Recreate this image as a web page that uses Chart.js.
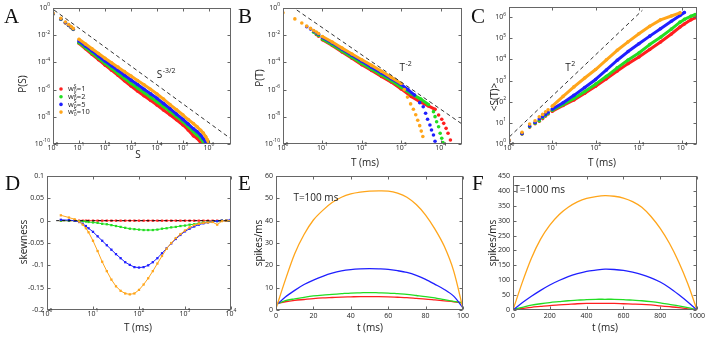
<!DOCTYPE html>
<html>
<head>
<meta charset="utf-8">
<script src="https://cdn.jsdelivr.net/npm/chart.js@4.4.1/dist/chart.umd.min.js"></script>
<style>
body { margin: 0; background: #fff; }
#fig { position: relative; width: 708px; height: 337px; overflow: hidden; background: #fff; }
canvas { position: absolute; }
.lab { position: absolute; font-family: "Liberation Serif", serif; font-size: 21px; line-height: 1; color: #111; }
</style>
</head>
<body>
<div id="fig">
  <canvas id="cA" width="236" height="170" style="left:0px;top:0px"></canvas>
  <canvas id="cB" width="234" height="170" style="left:233px;top:0px"></canvas>
  <canvas id="cC" width="241" height="170" style="left:467px;top:0px"></canvas>
  <canvas id="cD" width="240" height="172" style="left:0px;top:165px"></canvas>
  <canvas id="cE" width="236" height="172" style="left:236px;top:165px"></canvas>
  <canvas id="cF" width="238" height="172" style="left:470px;top:165px"></canvas>
  <div class="lab" style="left:4px;top:6px">A</div>
  <div class="lab" style="left:238px;top:6px">B</div>
  <div class="lab" style="left:471px;top:6px">C</div>
  <div class="lab" style="left:5px;top:173px">D</div>
  <div class="lab" style="left:238px;top:173px">E</div>
  <div class="lab" style="left:472px;top:173px">F</div>
</div>
<script>
// colours of the four w0S values
const RED = '#ff1f1f', GREEN = '#22dd22', BLUE = '#1f1fff', ORANGE = '#ffa51a';
const legendNames = ['1', '2', '5', '10'];

// ---- A : P(S), values are log10 ----
const aLogS = [0, 0.301, 0.477, 0.602, 0.699, 0.778, 1, 1.25, 1.5, 1.75, 2, 2.25, 2.5, 2.75, 3, 3.25, 3.5, 3.75, 4, 4.25, 4.5, 4.75, 5, 5.2, 5.4, 5.55, 5.68, 5.78, 5.87, 5.94, 6.0];
const aOrange = [-0.38, -0.76, -1.03, -1.22, -1.37, -1.5, -2.3, -2.65, -3.0, -3.35, -3.7, -4.03, -4.35, -4.68, -5.0, -5.33, -5.65, -5.98, -6.32, -6.7, -7.1, -7.48, -7.87, -8.2, -8.5, -8.75, -9.0, -9.2, -9.45, -9.7, -10.0];
const aBlue = [-0.42, -0.8, -1.07, -1.26, -1.41, -1.54, -2.43, -2.8, -3.15, -3.53, -3.9, -4.25, -4.6, -4.95, -5.3, -5.63, -5.97, -6.3, -6.64, -7.02, -7.4, -7.8, -8.19, -8.53, -8.88, -9.1, -9.35, -9.6, -9.85, -10.1, null];
const aGreen = [-0.44, -0.82, -1.09, -1.28, -1.43, -1.56, -2.55, -2.93, -3.3, -3.68, -4.07, -4.43, -4.8, -5.17, -5.54, -5.88, -6.22, -6.56, -6.9, -7.25, -7.6, -7.98, -8.36, -8.72, -9.1, -9.35, -9.6, -9.85, -10.1, null, null];
const aRed = [-0.45, -0.83, -1.1, -1.29, -1.44, -1.57, -2.6, -3.0, -3.4, -3.8, -4.2, -4.57, -4.95, -5.35, -5.74, -6.1, -6.45, -6.79, -7.13, -7.5, -7.85, -8.22, -8.6, -8.97, -9.4, -9.6, -9.9, -10.1, null, null, null];
const aDashS = [0.04, 6.8], aDashP = [-0.15, -9.56];
const aXTicks = [1, 1e1, 1e2, 1e3, 1e4, 1e5, 1e6];
const aYTicks = [1, 1e-2, 1e-4, 1e-6, 1e-8, 1e-10];

// ---- B : P(T) ----
const bOrT = [0, 0.301, 0.477, 0.602, 0.699, 0.778, 0.845, 0.903, 1, 1.25, 1.5, 1.75, 2, 2.25, 2.5, 2.75, 3, 3.08, 3.16, 3.24, 3.31, 3.37, 3.42, 3.47, 3.51, 3.55];
const bOrP = [-0.35, -0.8, -1.1, -1.33, -1.5, -1.65, -1.77, -1.88, -2.1, -2.5, -2.95, -3.38, -3.8, -4.22, -4.65, -5.1, -5.55, -6.0, -6.55, -7.05, -7.45, -7.85, -8.25, -8.65, -9.05, -9.45];
const bBlT = [0.602, 0.699, 0.778, 0.845, 0.903, 1, 1.25, 1.5, 1.75, 2, 2.25, 2.5, 2.75, 3, 3.17, 3.34, 3.47, 3.56, 3.62, 3.67, 3.73, 3.77, 3.82, 3.86];
const bBlP = [-1.38, -1.55, -1.7, -1.82, -1.93, -2.17, -2.57, -3.03, -3.47, -3.92, -4.35, -4.78, -5.2, -5.62, -6.0, -6.4, -6.96, -7.26, -7.74, -8.18, -8.6, -8.97, -9.34, -9.8];
const bGrT = [0.778, 0.845, 0.903, 1, 1.25, 1.5, 1.75, 2, 2.25, 2.5, 2.75, 3, 3.25, 3.5, 3.69, 3.82, 3.86, 3.9, 3.95, 3.99, 4.03, 4.06];
const bGrP = [-1.78, -1.9, -2.02, -2.28, -2.7, -3.17, -3.62, -4.07, -4.5, -4.93, -5.35, -5.82, -6.3, -6.7, -7.1, -7.62, -7.99, -8.36, -8.73, -9.21, -9.58, -9.9];
const bRdT = [0.845, 0.903, 1, 1.25, 1.5, 1.75, 2, 2.25, 2.5, 2.75, 3, 3.25, 3.51, 3.69, 3.86, 3.95, 4.03, 4.08, 4.14, 4.19, 4.25];
const bRdP = [-1.95, -2.07, -2.33, -2.75, -3.23, -3.7, -4.17, -4.6, -5.03, -5.45, -5.95, -6.5, -6.95, -7.2, -7.45, -7.87, -8.18, -8.48, -8.85, -9.21, -9.71];
const bDashT = [0.35, 4.58], bDashP = [-0.15, -8.6];
const bXTicks = [1, 1e1, 1e2, 1e3, 1e4];

// ---- C : <S(T)> ----
const cLogT = [0, 0.301, 0.477, 0.602, 0.699, 0.778, 0.845, 0.903, 1, 1.25, 1.5, 1.75, 2, 2.25, 2.5, 2.75, 3, 3.25, 3.5, 3.75, 3.95, 4.05, 4.2, 4.3];
const cOrange = [0.19, 0.55, 0.94, 1.1, 1.29, 1.4, 1.52, 1.62, 1.79, 2.25, 2.7, 3.12, 3.52, 3.98, 4.43, 4.83, 5.21, 5.57, 5.87, 6.05, 6.2, null, null, null];
const cBlue = [0.17, 0.5, 0.85, 1.02, 1.18, 1.29, 1.4, 1.5, 1.65, 1.95, 2.3, 2.67, 3.05, 3.5, 3.96, 4.37, 4.74, 5.1, 5.45, 5.8, 6.08, 6.22, null, null];
const cGreen = [0.15, 0.48, 0.82, 0.98, 1.1, 1.24, 1.35, 1.45, 1.6, 1.87, 2.15, 2.48, 2.83, 3.2, 3.6, 3.97, 4.3, 4.7, 5.05, 5.43, 5.76, 5.89, 6.04, 6.12];
const cRed = [0.14, 0.47, 0.8, 0.96, 1.08, 1.2, 1.32, 1.42, 1.55, 1.82, 2.08, 2.4, 2.73, 3.08, 3.45, 3.8, 4.11, 4.47, 4.82, 5.2, 5.53, 5.67, 5.87, 5.97];
const cDashT = [0.01, 3.08], cDashS = [0.34, 6.32];
const cYTicks = [1, 1e1, 1e2, 1e3, 1e4, 1e5, 1e6];

// ---- D : skewness ----
const dLogT = [0.301, 0.477, 0.602, 0.699, 0.778, 0.845, 0.903, 1.0, 1.1, 1.2, 1.3, 1.4, 1.5, 1.6, 1.7, 1.8, 1.9, 2.0, 2.1, 2.2, 2.3, 2.4, 2.5, 2.6, 2.7, 2.8, 2.9, 3.0, 3.1, 3.2, 3.3, 3.4, 3.5, 3.6, 3.7, 3.8, 3.9, 4.0];
const dRed = [0, 0, 0, 0, 0, 0, 0, 0, 0, 0, 0, 0, 0, 0, 0, 0, 0, 0, 0, 0, 0, 0, 0, 0, 0, 0, 0, 0, 0, 0, 0, 0, 0, 0, 0, 0, 0, 0];
const dGreen = [0, 0, 0, -0.001, -0.001, -0.002, -0.003, -0.004, -0.005, -0.007, -0.008, -0.010, -0.012, -0.014, -0.016, -0.018, -0.019, -0.020, -0.021, -0.021, -0.021, -0.020, -0.018, -0.017, -0.015, -0.014, -0.012, -0.011, -0.009, -0.008, -0.006, -0.004, -0.003, -0.002, -0.001, 0, 0, 0];
const dBlue = [0.002, 0.001, 0, -0.003, -0.007, -0.012, -0.017, -0.025, -0.035, -0.045, -0.055, -0.065, -0.075, -0.084, -0.093, -0.099, -0.104, -0.105, -0.104, -0.100, -0.093, -0.084, -0.073, -0.062, -0.051, -0.041, -0.032, -0.024, -0.018, -0.013, -0.009, -0.006, -0.004, -0.002, -0.001, 0, 0, 0.003];
const dOrange = [0.012, 0.007, 0.003, -0.002, -0.009, -0.017, -0.026, -0.045, -0.068, -0.092, -0.113, -0.132, -0.147, -0.157, -0.163, -0.165, -0.163, -0.155, -0.143, -0.129, -0.113, -0.096, -0.079, -0.063, -0.050, -0.039, -0.030, -0.022, -0.015, -0.010, -0.007, -0.005, -0.004, -0.003, -0.009, -0.001, 0, 0];
const dZeroT = [0.2, 4.0], dZero = [0, 0];

// ---- E : rate profile, T=100 ms ----
const eT = [0, 5, 10, 15, 20, 25, 30, 35, 40, 45, 50, 55, 60, 65, 70, 75, 80, 85, 90, 95, 100];
const eOrange = [0.7, 13.5, 25.2, 33.8, 40.3, 44.6, 48.1, 50.5, 52.0, 52.8, 53.2, 53.3, 53.2, 52.3, 50.5, 47.2, 42.5, 36.2, 28.5, 17.5, 0.5];
const eBlue = [2, 5.8, 8.8, 11.4, 13.4, 15.1, 16.5, 17.5, 18.1, 18.4, 18.5, 18.4, 18.2, 17.6, 16.8, 15.5, 13.7, 11.5, 9.2, 6.2, 1];
const eGreen = [2.5, 4.2, 5, 5.7, 6.3, 6.7, 7.0, 7.3, 7.6, 7.7, 7.8, 7.7, 7.6, 7.3, 7.0, 6.5, 6.0, 5.4, 4.6, 3.9, 3.2];
const eRed = [2.8, 3.7, 4.3, 4.7, 5.1, 5.4, 5.6, 5.8, 5.9, 6.0, 6.0, 6.0, 5.9, 5.7, 5.5, 5.2, 4.9, 4.5, 4.1, 3.7, 3.2];

// ---- F : rate profile, T=1000 ms ----
const fT = [0, 50, 100, 150, 200, 250, 300, 350, 400, 450, 500, 550, 600, 650, 700, 750, 800, 850, 900, 950, 1000];
const fOrange = [0, 92, 174, 238, 285, 320, 345, 363, 375, 381, 384, 382, 376, 364, 345, 314, 274, 224, 162, 88, 0];
const fBlue = [0, 24, 46, 66, 84, 99, 112, 122, 130, 134, 137, 136, 133, 127, 119, 108, 94, 75, 52, 27, 0];
const fGreen = [2, 9, 16, 21, 25, 28, 31, 33, 35, 36, 36, 36, 35, 33, 31, 28, 24, 19, 14, 8, 0];
const fRed = [1, 5, 9, 12, 15, 17, 19, 21, 22, 22, 22, 22, 21, 20, 19, 17, 14, 11, 8, 4, 0];

const FONT = '"Open Sans", sans-serif';

// helpers to turn read values into {x,y}
function logPts(xs, ys) {
  return xs.map((x, i) => ys[i] === null ? null : {x: Math.pow(10, x), y: Math.pow(10, ys[i])}).filter(p => p);
}
function semiPts(xs, ys) {
  return xs.map((x, i) => ({x: Math.pow(10, x), y: ys[i]}));
}
function linPts(xs, ys) {
  return xs.map((x, i) => ({x: x, y: ys[i]}));
}

// dense marker band: dots joined only where the markers overlap in the figure
function band(data, color, from, to) {
  return {
    data, borderColor: color, backgroundColor: color, borderWidth: 3,
    borderCapStyle: 'round', borderJoinStyle: 'round',
    pointRadius: 1.8, pointBorderWidth: 0, pointBackgroundColor: color,
    segment: { borderColor: c => (c.p0.parsed.x >= from && c.p1.parsed.x <= to) ? color : 'rgba(0,0,0,0)' }
  };
}
function dash(data) {
  return { data, borderColor: '#333', borderWidth: 1, borderDash: [4, 3], pointRadius: 0 };
}
function marked(data, color) {
  return { data, borderColor: color, borderWidth: 1, pointStyle: 'rect', pointRadius: 1.6,
    pointBorderWidth: 0, pointBackgroundColor: color };
}
function smooth(data, color) {
  return { data, borderColor: color, borderWidth: 1.3, pointRadius: 0, tension: 0.3 };
}

function pow10(ctx, x, y, v, align) {
  const e = String(Math.round(Math.log10(v)));
  ctx.font = '7px ' + FONT;
  const w1 = ctx.measureText('10').width;
  ctx.font = '5px ' + FONT;
  const w2 = ctx.measureText(e).width;
  const x0 = align === 'right' ? x - w1 - w2 : x - (w1 + w2) / 2;
  ctx.textAlign = 'left';
  ctx.textBaseline = 'middle';
  ctx.font = '7px ' + FONT;
  ctx.fillText('10', x0, y);
  ctx.font = '5px ' + FONT;
  ctx.fillText(e, x0 + w1, y - 3);
}

// box round the plot, inward ticks on all sides, 10^n labels for log axes
const frame = {
  id: 'frame',
  afterDatasetsDraw(chart) {
    const {ctx, chartArea: a} = chart;
    const sx = chart.scales.x, sy = chart.scales.y;
    ctx.save();
    ctx.strokeStyle = '#666';
    ctx.lineWidth = 1;
    const l = Math.round(a.left) + 0.5, t = Math.round(a.top) + 0.5;
    const r = Math.round(a.right) - 0.5, b = Math.round(a.bottom) - 0.5;
    ctx.strokeRect(l, t, r - l, b - t);
    ctx.beginPath();
    sx.ticks.forEach(k => {
      const p = Math.round(sx.getPixelForValue(k.value)) + 0.5;
      ctx.moveTo(p, b); ctx.lineTo(p, b - 3);
      ctx.moveTo(p, t); ctx.lineTo(p, t + 3);
    });
    sy.ticks.forEach(k => {
      const p = Math.round(sy.getPixelForValue(k.value)) + 0.5;
      ctx.moveTo(l, p); ctx.lineTo(l + 3, p);
      ctx.moveTo(r, p); ctx.lineTo(r - 3, p);
    });
    ctx.stroke();
    ctx.fillStyle = '#222';
    if (sx.type === 'logarithmic') sx.ticks.forEach(k => pow10(ctx, sx.getPixelForValue(k.value), a.bottom + 3.5, k.value, 'center'));
    if (sy.type === 'logarithmic') sy.ticks.forEach(k => pow10(ctx, a.left - 3, sy.getPixelForValue(k.value), k.value, 'right'));
    ctx.restore();
  }
};

// axis titles, given in page coordinates
function titles(list, ox, oy) {
  return {
    id: 'titles',
    afterDraw(chart) {
      const ctx = chart.ctx;
      ctx.save();
      ctx.fillStyle = '#222';
      ctx.textAlign = 'center';
      ctx.textBaseline = 'middle';
      ctx.font = '10px ' + FONT;
      list.forEach(t => {
        ctx.save();
        ctx.translate(t.x - ox, t.y - oy);
        if (t.rot) ctx.rotate(-Math.PI / 2);
        ctx.fillText(t.text, 0, 0);
        ctx.restore();
      });
      ctx.restore();
    }
  };
}

// text inside the plot, anchored at data values
function notes(list) {
  return {
    id: 'notes',
    afterDatasetsDraw(chart) {
      const {ctx, scales: {x, y}} = chart;
      ctx.save();
      ctx.fillStyle = '#222';
      ctx.textAlign = 'left';
      ctx.textBaseline = 'middle';
      list.forEach(n => {
        const px = x.getPixelForValue(n.x), py = y.getPixelForValue(n.y);
        ctx.font = '10px ' + FONT;
        ctx.fillText(n.text, px, py);
        if (n.sup) {
          const w = ctx.measureText(n.text).width;
          ctx.font = '7px ' + FONT;
          ctx.fillText(n.sup, px + w + 0.5, py - 4);
        }
      });
      ctx.restore();
    }
  };
}

const legendA = {
  id: 'legendA',
  afterDatasetsDraw(chart) {
    const ctx = chart.ctx, a = chart.chartArea;
    const cols = [RED, GREEN, BLUE, ORANGE];
    ctx.save();
    ctx.textAlign = 'left';
    ctx.textBaseline = 'middle';
    legendNames.forEach((n, i) => {
      const y = a.top + 81 + i * 7.7, x = a.left + 8;
      ctx.fillStyle = cols[i];
      ctx.beginPath(); ctx.arc(x, y, 1.8, 0, Math.PI * 2); ctx.fill();
      ctx.fillStyle = '#222';
      let tx = x + 7;
      ctx.font = '7.5px ' + FONT;
      ctx.fillText('w', tx, y);
      tx += ctx.measureText('w').width;
      ctx.font = '5px ' + FONT;
      ctx.fillText('0', tx, y + 2);
      ctx.fillText('S', tx, y - 2.5);
      tx += ctx.measureText('S').width + 0.3;
      ctx.font = '7.5px ' + FONT;
      ctx.fillText('=' + n, tx, y);
    });
    ctx.restore();
  }
};

function axis(a, size, horiz) {
  const s = {
    type: a.type, min: a.min, max: a.max,
    grid: { display: false, drawTicks: false },
    border: { display: false },
    title: { display: false },
    ticks: { display: a.type !== 'logarithmic', color: '#222', padding: horiz ? 2 : 3,
      font: { family: 'Open Sans', size: 7 }, maxRotation: 0, autoSkip: false,
      callback: a.fmt || (v => String(v)) },
    afterFit: sc => { if (horiz) sc.height = size; else sc.width = size; }
  };
  if (a.step) s.ticks.stepSize = a.step;
  if (a.logTicks) s.afterBuildTicks = sc => { sc.ticks = a.logTicks.map(v => ({ value: v })); };
  return s;
}

function build(id, o) {
  return new Chart(document.getElementById(id), {
    type: 'line',
    data: { datasets: o.datasets },
    options: {
      responsive: false, animation: false, events: [],
      layout: { padding: o.pad },
      plugins: { legend: { display: false }, tooltip: { enabled: false } },
      scales: { x: axis(o.x, o.xh, true), y: axis(o.y, o.yw, false) }
    },
    plugins: [frame].concat(o.extra)
  });
}

build('cA', {
  pad: { left: 0, right: 5, top: 8, bottom: 0 }, yw: 53, xh: 26,
  x: { type: 'logarithmic', min: 1, max: 7e6, logTicks: aXTicks },
  y: { type: 'logarithmic', min: 1e-10, max: 1, logTicks: aYTicks },
  datasets: [
    dash(logPts(aDashS, aDashP)),
    band(logPts(aLogS, aOrange), ORANGE, 9, Infinity),
    band(logPts(aLogS, aBlue), BLUE, 9, Infinity),
    band(logPts(aLogS, aGreen), GREEN, 9, Infinity),
    band(logPts(aLogS, aRed), RED, 9, Infinity)
  ],
  extra: [legendA, notes([{ x: Math.pow(10, 3.99), y: Math.pow(10, -4.93), text: 'S', sup: '-3/2' }]),
    titles([{ text: 'P(S)', x: 23, y: 84, rot: true }, { text: 'S', x: 138, y: 155 }], 0, 0)]
});

build('cB', {
  pad: { left: 0, right: 5, top: 8, bottom: 0 }, yw: 50, xh: 26,
  x: { type: 'logarithmic', min: 1, max: 3.5e4, logTicks: bXTicks },
  y: { type: 'logarithmic', min: 1e-10, max: 1, logTicks: aYTicks },
  datasets: [
    dash(logPts(bDashT, bDashP)),
    band(logPts(bOrT, bOrP), ORANGE, 9, Math.pow(10, 3.01)),
    band(logPts(bBlT, bBlP), BLUE, 9, Math.pow(10, 3.35)),
    band(logPts(bGrT, bGrP), GREEN, 9, Math.pow(10, 3.7)),
    band(logPts(bRdT, bRdP), RED, 9, Math.pow(10, 3.87))
  ],
  extra: [notes([{ x: Math.pow(10, 2.96), y: Math.pow(10, -4.44), text: 'T', sup: '-2' }]),
    titles([{ text: 'P(T)', x: 260, y: 78, rot: true }, { text: 'T (ms)', x: 365, y: 163 }], 233, 0)]
});

build('cC', {
  pad: { left: 0, right: 11, top: 7, bottom: 0 }, yw: 42, xh: 26,
  x: { type: 'logarithmic', min: 1, max: 2.2e4, logTicks: bXTicks },
  y: { type: 'logarithmic', min: 1, max: 3e6, logTicks: cYTicks },
  datasets: [
    dash(logPts(cDashT, cDashS)),
    band(logPts(cLogT, cOrange), ORANGE, 9, Infinity),
    band(logPts(cLogT, cBlue), BLUE, 9, Infinity),
    band(logPts(cLogT, cGreen), GREEN, 9, Infinity),
    band(logPts(cLogT, cRed), RED, 9, Infinity)
  ],
  extra: [notes([{ x: Math.pow(10, 1.3), y: Math.pow(10, 3.57), text: 'T', sup: '2' }]),
    titles([{ text: '<S(T)>', x: 495, y: 97, rot: true }, { text: 'T (ms)', x: 602, y: 163 }], 467, 0)]
});

build('cD', {
  pad: { left: 0, right: 9, top: 11, bottom: 0 }, yw: 47, xh: 27,
  x: { type: 'logarithmic', min: 1, max: 1e4, logTicks: bXTicks },
  y: { type: 'linear', min: -0.2, max: 0.1, step: 0.05, fmt: v => String(Math.round(v * 100) / 100) },
  datasets: [
    { data: semiPts(dZeroT, dZero), borderColor: '#111', borderWidth: 1, borderDash: [3, 3], pointRadius: 0 },
    marked(semiPts(dLogT, dOrange), ORANGE),
    marked(semiPts(dLogT, dBlue), BLUE),
    marked(semiPts(dLogT, dGreen), GREEN),
    marked(semiPts(dLogT, dRed), RED)
  ],
  extra: [titles([{ text: 'skewness', x: 24, y: 242, rot: true }, { text: 'T (ms)', x: 138, y: 328 }], 0, 165)]
});

build('cE', {
  pad: { left: 0, right: 9, top: 11, bottom: 0 }, yw: 40, xh: 27,
  x: { type: 'linear', min: 0, max: 100, step: 20 },
  y: { type: 'linear', min: 0, max: 60, step: 10 },
  datasets: [
    smooth(linPts(eT, eOrange), ORANGE),
    smooth(linPts(eT, eBlue), BLUE),
    smooth(linPts(eT, eGreen), GREEN),
    smooth(linPts(eT, eRed), RED)
  ],
  extra: [notes([{ x: 9.3, y: 50, text: 'T=100 ms' }]),
    titles([{ text: 'spikes/ms', x: 259, y: 243, rot: true }, { text: 't (ms)', x: 370, y: 328 }], 236, 165)]
});

build('cF', {
  pad: { left: 0, right: 11, top: 11, bottom: 0 }, yw: 43, xh: 27,
  x: { type: 'linear', min: 0, max: 1000, step: 200 },
  y: { type: 'linear', min: 0, max: 450, step: 50 },
  datasets: [
    smooth(linPts(fT, fOrange), ORANGE),
    smooth(linPts(fT, fBlue), BLUE),
    smooth(linPts(fT, fGreen), GREEN),
    smooth(linPts(fT, fRed), RED)
  ],
  extra: [notes([{ x: 7, y: 403, text: 'T=1000 ms' }]),
    titles([{ text: 'spikes/ms', x: 493, y: 243, rot: true }, { text: 't (ms)', x: 605, y: 328 }], 470, 165)]
});
</script>
</body>
</html>
